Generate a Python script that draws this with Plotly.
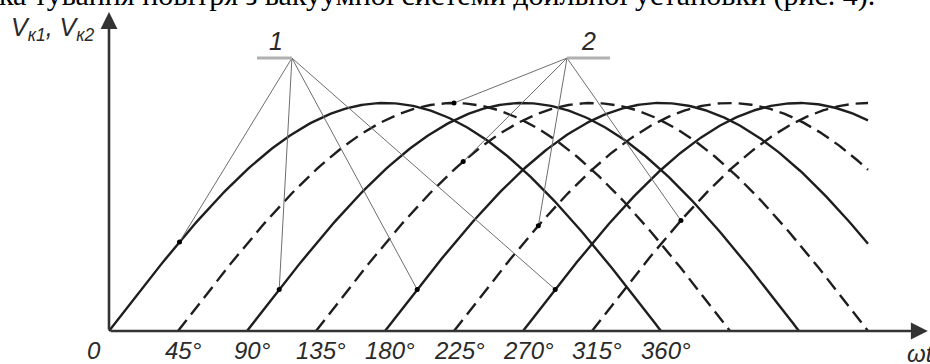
import numpy as np
import plotly.graph_objects as go

# ---- data ----
arc_starts = [0, 45, 90, 135, 180, 225, 270, 315]          # degrees
arc_styles = ["solid", "dash", "solid", "dash", "solid", "dash", "solid", "dash"]
arc_half_period = 360                                       # arc spans start .. start+360
arc_amplitude = 1.0
x_end = 495                                                 # right cut of the drawing
tick_values = [0, 45, 90, 135, 180, 225, 270, 315, 360]
tick_labels = ["0", "45°", "90°", "135°", "180°", "225°", "270°", "315°", "360°"]

# marked points: (arc start, angle)
group1_points = [(0, 46), (90, 111), (180, 201), (270, 291)]
group2_points = [(45, 225), (135, 231), (225, 280), (315, 373)]
label1_anchor = (119.3, 1.197)
label2_anchor = (298.7, 1.197)

heading = "ка тування повітря з вакуумної системи доильної установки (рис. 4)."

# ---- geometry of the page ----
W, H = 930, 364
px_per_deg = 69 / 45
x0_px, y0_px, amp_px = 109, 331, 228
x_range = [-x0_px / px_per_deg, (W - x0_px) / px_per_deg]
y_range = [(y0_px - H) / amp_px, y0_px / amp_px]


def arc_y(start, x):
    return arc_amplitude * np.sin((np.asarray(x) - start) / arc_half_period * np.pi)


fig = go.Figure()
INK = "#1e1e1e"

for s, st in zip(arc_starts, arc_styles):
    xe = min(s + arc_half_period, x_end)
    xs = np.linspace(s, xe, 200)
    fig.add_trace(go.Scatter(
        x=xs, y=arc_y(s, xs), mode="lines",
        line=dict(color=INK, width=2.4, dash="solid" if st == "solid" else "14px,7px"),
        hoverinfo="skip", showlegend=False))

# leader lines
leader_col = "#6e6e6e"
for anchor, pts in ((label1_anchor, group1_points), (label2_anchor, group2_points)):
    for s, a in pts:
        fig.add_trace(go.Scatter(
            x=[anchor[0], a], y=[anchor[1], float(arc_y(s, a))], mode="lines",
            line=dict(color=leader_col, width=1), hoverinfo="skip", showlegend=False))
    fig.add_trace(go.Scatter(
        x=[a for s, a in pts], y=[float(arc_y(s, a)) for s, a in pts], mode="markers",
        marker=dict(color="#000", size=5), hoverinfo="skip", showlegend=False))

# label underlines
fig.add_shape(type="line", x0=96.5, x1=label1_anchor[0], y0=label1_anchor[1], y1=label1_anchor[1],
              line=dict(color="#b0b0b0", width=3))
fig.add_shape(type="line", x0=label2_anchor[0], x1=326.7, y0=label2_anchor[1], y1=label2_anchor[1],
              line=dict(color="#b0b0b0", width=3))

AXC = "#333333"
# axes with arrows
fig.add_annotation(x=534, y=0, ax=0, ay=0, xref="x", yref="y", axref="x", ayref="y",
                   text="", showarrow=True, arrowhead=2, arrowsize=1.3, arrowwidth=2.6,
                   arrowcolor=AXC)
fig.add_annotation(x=0, y=(y0_px - 12) / amp_px, ax=0, ay=0, xref="x", yref="y", axref="x", ayref="y",
                   text="", showarrow=True, arrowhead=2, arrowsize=1.3, arrowwidth=2.6,
                   arrowcolor=AXC)

tick_font = dict(family="Liberation Sans, Arial", size=24, color="#2a2a2a", style="italic")
for v, t in zip(tick_values, tick_labels):
    fig.add_annotation(x=v, y=0, xref="x", yref="y", text=t, showarrow=False,
                       xanchor="center", yanchor="top", yshift=-4,
                       xshift=-15 if v == 0 else 5, font=tick_font)

fig.add_annotation(x=(905 - x0_px) / px_per_deg, y=0, xref="x", yref="y", text="ωt",
                   showarrow=False, xanchor="left", yanchor="top", yshift=-7, font=tick_font)

fig.add_annotation(x=(9 - x0_px) / px_per_deg, y=(y0_px - 11) / amp_px, xref="x", yref="y",
                   text="V<sub>к1</sub>, V<sub>к2</sub>", showarrow=False,
                   xanchor="left", yanchor="top", font=dict(tick_font, size=25))

num_font = dict(tick_font, size=25)
fig.add_annotation(x=108.9, y=1.272, xref="x", yref="y", text="1", showarrow=False,
                   xanchor="center", yanchor="middle", font=num_font)
fig.add_annotation(x=313, y=1.272, xref="x", yref="y", text="2", showarrow=False,
                   xanchor="center", yanchor="middle", font=num_font)

fig.add_annotation(x=0, y=1, xref="paper", yref="paper", text=heading, showarrow=False,
                   xanchor="left", yanchor="top", yshift=24, xshift=-3,
                   font=dict(family="Liberation Serif", size=30, color="#000"))

fig.update_layout(
    width=W, height=H, margin=dict(l=0, r=0, t=0, b=0),
    paper_bgcolor="white", plot_bgcolor="white",
    xaxis=dict(range=x_range, visible=False, fixedrange=True),
    yaxis=dict(range=y_range, visible=False, fixedrange=True),
    showlegend=False,
)

fig.write_html("out.html", config={"displayModeBar": False},
               post_script="document.body.style.margin='0';document.body.style.overflow='hidden';")
